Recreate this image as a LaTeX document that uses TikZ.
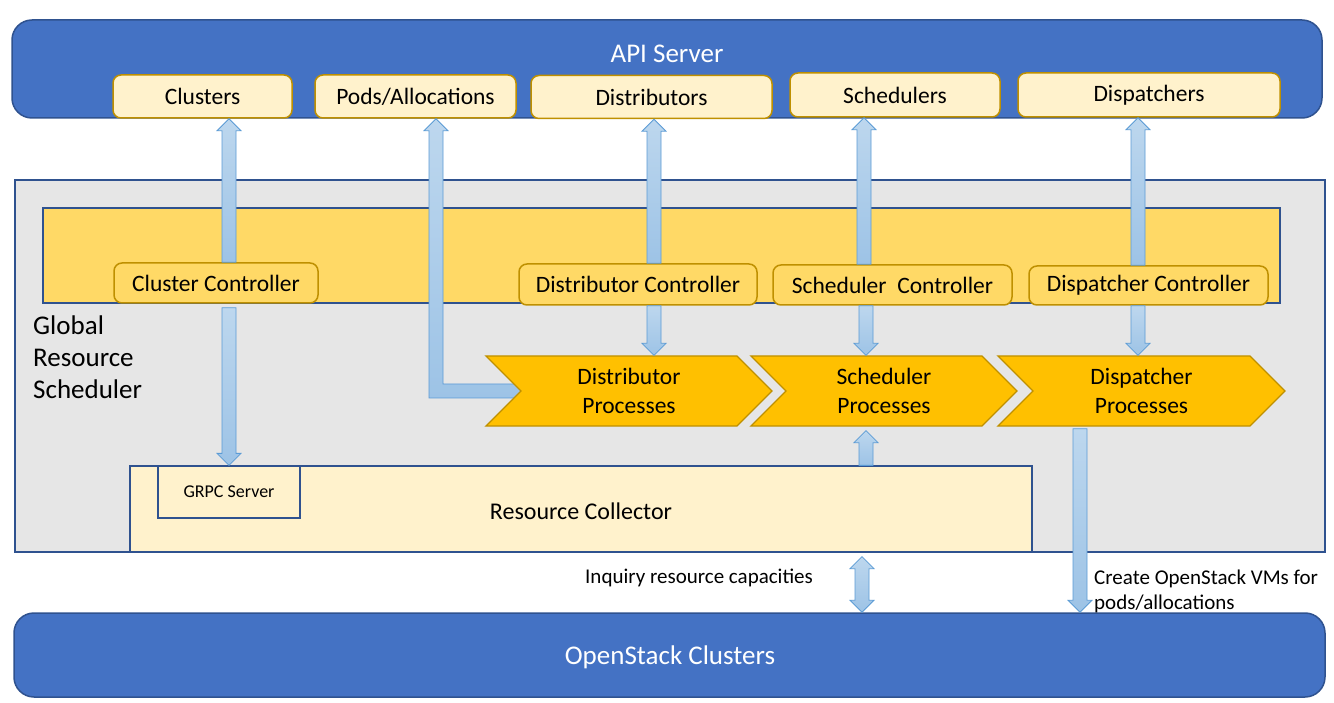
\documentclass[tikz,border=0pt]{standalone}
\usepackage{fontspec}
\setmainfont{Carlito}
\usetikzlibrary{calc,shapes.symbols}
\definecolor{apiblue}{HTML}{4472C4}
\definecolor{darkblue}{HTML}{2F528F}
\definecolor{lightyel}{HTML}{FFF2CC}
\definecolor{goldline}{HTML}{BF9000}
\definecolor{bandyel}{HTML}{FFD966}
\definecolor{chevor}{HTML}{FFC000}
\definecolor{grsgray}{HTML}{E6E6E6}
\definecolor{arrtop}{HTML}{BDD7EE}
\definecolor{arrbot}{HTML}{9DC3E6}
\definecolor{arrline}{HTML}{5B9BD5}
\newcommand\fs[2]{\fontsize{#1}{#2}\selectfont}
\tikzset{
  bigbox/.style={draw=darkblue, line width=1.5pt, fill=apiblue, rounded corners=20pt, inner sep=0},
  resbox/.style={draw=goldline, line width=1.5pt, fill=lightyel, rounded corners=8pt, inner sep=0, font=\fs{23.5}{28}},
  ctlbox/.style={draw=goldline, line width=1.5pt, fill=bandyel, rounded corners=8pt, inner sep=0, font=\fs{23.5}{28}},
  plainbox/.style={draw=darkblue, line width=1.3pt, inner sep=0},
  chevbox/.style={shape=signal, signal from=west, signal to=east, signal pointer angle=90,
     draw=goldline, line width=1.3pt, fill=chevor, inner sep=0, align=center, font=\fs{23.5}{29}},
  barrow/.style={draw=arrline, line width=0.8pt, top color=arrtop, bottom color=arrbot},
  whitetitle/.style={text=white, font=\fs{27}{32}},
  note/.style={font=\fs{21}{25}, inner sep=0, anchor=west, align=left}
}
\newcommand\sarrow[2]{%
\path[barrow] let \p1=#1, \p2=#2, \n1={sign(\y2-\y1)}, \n2={\y2-(\n1)*12} in
 ({\x2-7pt},\y1) -- ({\x2-7pt},\n2) -- ({\x2-12pt},\n2) -- (\x2,\y2)
 -- ({\x2+12pt},\n2) -- ({\x2+7pt},\n2) -- ({\x2+7pt},\y1) -- cycle;}
\newcommand\darrow[2]{%
\path[barrow] let \p1=#1, \p2=#2, \n1={sign(\y2-\y1)}, \n2={\y2-(\n1)*12}, \n3={\y1+(\n1)*12} in
 ({\x2-7pt},\n3) -- ({\x2-7pt},\n2) -- ({\x2-12pt},\n2) -- (\x2,\y2)
 -- ({\x2+12pt},\n2) -- ({\x2+7pt},\n2) -- ({\x2+7pt},\n3)
 -- ({\x2+12pt},\n3) -- (\x2,\y1) -- ({\x2-12pt},\n3) -- cycle;}
\begin{document}
\begin{tikzpicture}[x=1pt,y=-1pt]
\useasboundingbox (0,0) rectangle (1334,703);
\fill[white] (0,0) rectangle (1334,703);
% API server
\node[bigbox, minimum width=1310, minimum height=98] (api) at (667,69) {};
\node[whitetitle] (apit) at (667,54) {API Server};
\node[resbox, minimum width=179, minimum height=43] (clusters) at (202.5,96.5) {Clusters};
\node[resbox, minimum width=201, minimum height=43] (pods) at (415.5,96.5) {Pods/Allocations};
\node[resbox, minimum width=241, minimum height=43] (distr) at (651.5,97) {Distributors};
\node[resbox, minimum width=210, minimum height=44] (sched) at (895,95) {Schedulers};
\node[resbox, minimum width=262, minimum height=44] (disp) at (1149,95) {Dispatchers};
% GRS
\node[plainbox, fill=grsgray, minimum width=1310, minimum height=372] (grs) at (670,366) {};
\node[font=\fs{27}{32}, align=left, anchor=west, inner sep=0] (grst) at (33,357) {Global\\Resource\\Scheduler};
\node[plainbox, fill=bandyel, minimum width=1237, minimum height=95] (band) at (661.5,255.5) {};
% x positions of the connectors
\coordinate (xa) at (229,0);
\coordinate (xb) at (436,0);
\coordinate (xc) at (654,0);
\coordinate (xd) at (864,0);
\coordinate (xe) at (1138,0);
\coordinate (xf) at (866,0);
\coordinate (xg) at (862,0);
\coordinate (xh) at (1080,0);
% controllers
\node[ctlbox, minimum width=204, minimum height=40] (cc) at (216,283) {Cluster Controller};
\node[ctlbox, minimum width=238, minimum height=41] (dc) at (638,284.5) {Distributor Controller};
\node[ctlbox, minimum width=239, minimum height=40] (sc) at (892.5,285) {Scheduler\ \ Controller};
\node[ctlbox, minimum width=239, minimum height=39] (pc) at (1148.5,285.5) {Dispatcher Controller};
% controller -> API arrows
\sarrow{(cc.north -| xa)}{(clusters.south -| xa)}
\sarrow{(dc.north -| xc)}{(distr.south -| xc)}
\sarrow{(sc.north -| xd)}{(sched.south -| xd)}
\sarrow{(pc.north -| xe)}{(disp.south -| xe)}
% process chevrons
\coordinate (dpc) at (629,391);
\coordinate (notch) at (521,391);
\path[barrow] let \p1=(notch), \p2=(pods.south -| xb) in
 ({\x1+10pt},{\y1+7pt}) -- ({\x2+7pt},{\y1+7pt}) -- ({\x2+7pt},{\y2-12pt}) -- ({\x2+12pt},{\y2-12pt}) -- (\x2,\y2)
 -- ({\x2-12pt},{\y2-12pt}) -- ({\x2-7pt},{\y2-12pt}) -- ({\x2-7pt},{\y1-7pt}) -- ({\x1+10pt},{\y1-7pt}) -- cycle;
\node[chevbox, minimum width=286, minimum height=70] (dp) at (dpc) {Distributor\\Processes};
\node[chevbox, minimum width=266, minimum height=70] (sp) at (884,391) {Scheduler\\Processes};
\node[chevbox, minimum width=287, minimum height=70] (pp) at (1141.5,391) {Dispatcher\\Processes};
\sarrow{(dc.south -| xc)}{(dp.north -| xc)}
\sarrow{(sc.south -| xf)}{(sp.north -| xf)}
\sarrow{(pc.south -| xe)}{(pp.north -| xe)}
% resource collector
\node[plainbox, fill=lightyel, minimum width=902, minimum height=86] (rc) at (581,509) {};
\node[font=\fs{24}{28}] (rct) at (581,511) {Resource Collector};
\node[plainbox, fill=lightyel, minimum width=142, minimum height=52, font=\fs{18}{20}] (grpc) at (229,492) {GRPC Server};
\sarrow{($(cc.south -| xa)+(0,4)$)}{(grpc.north -| xa)}
\sarrow{(rc.north -| xf)}{($(sp.south -| xf)+(0,4)$)}
% OpenStack
\node[bigbox, minimum width=1311, minimum height=84] (os) at (669.5,655) {};
\node[whitetitle] (ost) at (670,657) {OpenStack Clusters};
\darrow{($(rc.south -| xg)+(0,4)$)}{(os.north -| xg)}
\sarrow{($(pp.south -| xh)+(0,2)$)}{(os.north -| xh)}
\node[note] (n1) at (585,578) {Inquiry resource capacities};
\node[note] (n2) at (1094,591) {Create OpenStack VMs for\\pods/allocations};
\end{tikzpicture}
\end{document}
